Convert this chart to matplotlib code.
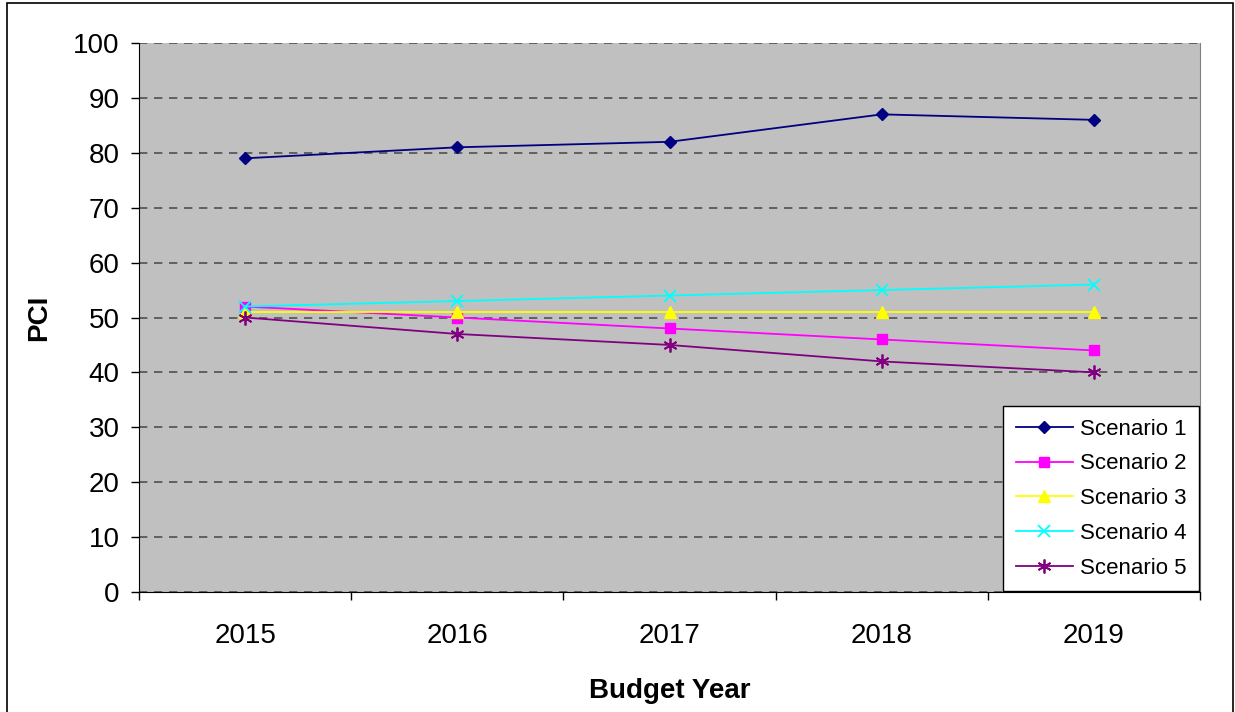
import matplotlib
matplotlib.use("Agg")
import matplotlib.pyplot as plt
from matplotlib.patches import Rectangle
import numpy as np

plt.rcParams['font.family'] = ['Liberation Sans', 'DejaVu Sans']

years = ["2015", "2016", "2017", "2018", "2019"]
scenario1 = [79, 81, 82, 87, 86]
scenario2 = [52, 50, 48, 46, 44]
scenario3 = [51, 51, 51, 51, 51]
scenario4 = [52, 53, 54, 55, 56]
scenario5 = [50, 47, 45, 42, 40]
series_names = ["Scenario 1", "Scenario 2", "Scenario 3", "Scenario 4", "Scenario 5"]

fig = plt.figure(figsize=(12.35, 7.12), dpi=100)
ax = fig.add_axes([139/1235, 1 - 592/712, (1200-139)/1235, (592-43)/712])
ax.set_facecolor('#c0c0c0')

x = np.arange(len(years))
styles = [
    dict(color='#000080', marker='D', markersize=6.5),
    dict(color='#ff00ff', marker='s', markersize=7),
    dict(color='#ffff00', marker='^', markersize=9),
    dict(color='#00ffff', marker='x', markersize=9, markeredgewidth=1.3),
    dict(color='#800080', marker=(6, 2, 0), markersize=10, markeredgewidth=1.3),
]
for vals, name, st in zip([scenario1, scenario2, scenario3, scenario4, scenario5], series_names, styles):
    ax.plot(x, vals, label=name, linewidth=1.3, **st)

ax.set_xlim(-0.5, len(years) - 0.5)
ax.set_ylim(0, 100)
ax.set_yticks(np.arange(0, 101, 10))
ax.set_xticks(x)
ax.set_xticklabels(years)
ax.set_xticks(np.arange(-0.5, len(years), 1.0), minor=True)
ax.tick_params(axis='x', which='major', length=0, pad=22, labelsize=20)
ax.tick_params(axis='x', which='minor', length=6, direction='out', width=1)
ax.tick_params(axis='y', length=6, direction='out', width=1, labelsize=20, pad=8)

ax.yaxis.grid(True, linestyle=(0, (5, 4)), color='#505050', linewidth=1.2)
ax.set_axisbelow(True)
ax.spines['top'].set_visible(False)
ax.spines['right'].set_color('#808080')
ax.spines['left'].set_color('black')
ax.spines['bottom'].set_color('black')

ax.set_xlabel("Budget Year", fontsize=20, fontweight='bold', labelpad=21)
ax.set_ylabel("PCI", fontsize=20, fontweight='bold', labelpad=15)

leg = ax.legend(loc='lower right', fontsize=16, frameon=True, fancybox=False,
                edgecolor='black', framealpha=1, borderaxespad=0.05,
                handlelength=2.6, labelspacing=0.62, borderpad=0.55, handletextpad=0.3)
leg.get_frame().set_linewidth(1.0)

fig.patches.append(Rectangle((7/1235, -0.05), (1233-7)/1235, 1.05 - 3/712,
                             transform=fig.transFigure, fill=False,
                             edgecolor='black', linewidth=1.2))

fig.savefig("out.png", dpi=100)
